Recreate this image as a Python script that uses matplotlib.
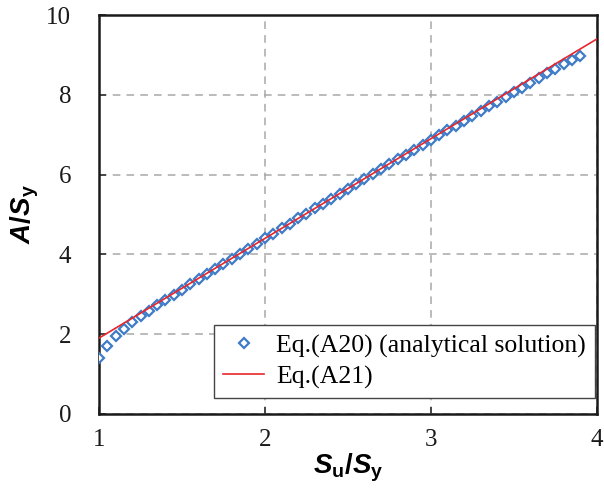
import matplotlib
matplotlib.use("Agg")
import matplotlib.pyplot as plt

plt.rcParams['mathtext.fontset'] = 'custom'
plt.rcParams['mathtext.bf'] = 'Liberation Sans:bold'
plt.rcParams['mathtext.bfit'] = 'Liberation Sans:bold:italic'
plt.rcParams['mathtext.rm'] = 'Liberation Sans'

# Eq.(A20) analytical solution, sampled every 0.05 in Su/Sy
su_sy = [1.00, 1.05, 1.10, 1.15, 1.20, 1.25, 1.30, 1.35, 1.40, 1.45,
         1.50, 1.55, 1.60, 1.65, 1.70, 1.75, 1.80, 1.85, 1.90, 1.95,
         2.00, 2.05, 2.10, 2.15, 2.20, 2.25, 2.30, 2.35, 2.40, 2.45,
         2.50, 2.55, 2.60, 2.65, 2.70, 2.75, 2.80, 2.85, 2.90, 2.95,
         3.00, 3.05, 3.10, 3.15, 3.20, 3.25, 3.30, 3.35, 3.40, 3.45,
         3.50, 3.55, 3.60, 3.65, 3.70, 3.75, 3.80, 3.85, 3.90]
a_sy = [1.41, 1.71, 1.96, 2.13, 2.30, 2.45, 2.58, 2.72, 2.85, 2.99,
        3.11, 3.25, 3.37, 3.50, 3.63, 3.76, 3.89, 4.01, 4.14, 4.27,
        4.40, 4.52, 4.65, 4.77, 4.90, 5.02, 5.15, 5.27, 5.40, 5.52,
        5.65, 5.77, 5.89, 6.01, 6.14, 6.26, 6.38, 6.50, 6.62, 6.74,
        6.87, 6.99, 7.11, 7.23, 7.35, 7.47, 7.59, 7.71, 7.83, 7.95,
        8.07, 8.18, 8.30, 8.42, 8.54, 8.65, 8.77, 8.88, 8.98]

# Eq.(A21) linear approximation, end points
fit_x = [1.0, 4.0]
fit_y = [1.9, 9.4]

fig = plt.figure(figsize=(6.04, 4.88), dpi=100)
ax = fig.add_axes([0.164, 0.152, 0.824, 0.817])

ax.plot(su_sy, a_sy, linestyle='none', marker='D', markersize=5.2,
        markerfacecolor='white', markeredgecolor='#3f7cc8', markeredgewidth=1.6,
        label='Eq.(A20) (analytical solution)', zorder=3)
ax.plot(fit_x, fit_y, color='#e8262c', lw=1.2, label='Eq.(A21)', zorder=4)

ax.set_xlim(1, 4)
ax.set_ylim(0, 10)
ax.set_xticks([1, 2, 3, 4])
ax.set_yticks([0, 2, 4, 6, 8, 10])
ax.grid(True, color='#a8a8a8', linestyle=(0, (5, 4)), lw=1.1)
ax.set_axisbelow(True)

for s in ax.spines.values():
    s.set_color('#1a1a1a')
    s.set_linewidth(1.8)

ax.tick_params(axis='both', direction='in', length=5, width=1.2, color='#333333',
               labelsize=18, labelcolor='#1a1a1a')
ax.tick_params(axis='y', pad=20)
ax.tick_params(axis='x', pad=11)
for lab in ax.get_xticklabels() + ax.get_yticklabels():
    lab.set_fontfamily('Liberation Serif')

ax.set_xlabel(r'$\mathbfit{S}_\mathbf{u}\mathbf{/}\mathbfit{S}_\mathbf{y}$',
              fontsize=20, labelpad=0)
ax.set_ylabel(r'$\mathbfit{A}\mathbf{/}\mathbfit{S}_\mathbf{y}$',
              fontsize=20, labelpad=4)

leg = ax.legend(loc='lower right', bbox_to_anchor=(0.996, 0.04),
                prop={'family': 'Liberation Serif', 'size': 18.5},
                frameon=True, fancybox=False, framealpha=1, edgecolor='#444444',
                borderaxespad=0, handlelength=1.6, handletextpad=0.45,
                borderpad=0.35, labelspacing=0.3)
leg.get_frame().set_linewidth(1.0)

fig.savefig('out.png', dpi=100)
